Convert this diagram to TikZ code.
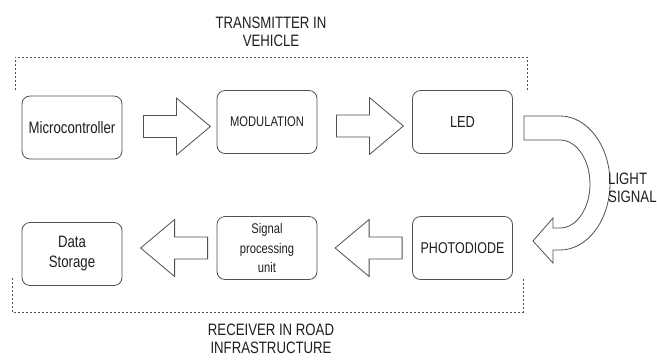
\documentclass[tikz,border=0pt]{standalone}
\usepackage{fontspec}
\setmainfont[FakeStretch=0.8]{Liberation Sans}
\usepackage{tikz}
\usetikzlibrary{calc}
\definecolor{lnGray}{HTML}{505050}
\definecolor{txGray}{HTML}{1E1E1E}

% hollow block arrow, pointing right from its tail
\newcommand{\fatarrow}[2][]{%
  \draw[fat,shift={#2},#1] (0,-11) -- (33,-11) -- (33,-28.5) -- (67,0)
    -- (33,28.5) -- (33,11) -- (0,11) -- cycle;}

\begin{document}
\begin{tikzpicture}[
  x=1pt,y=-1pt,
  every node/.style={font=\fontsize{16.5}{20}\selectfont,text=txGray},
  blk/.style={rounded corners=8pt,draw=lnGray,line width=0.8pt,minimum width=100pt,
    minimum height=63pt,inner sep=2pt,align=center},
  fat/.style={draw=lnGray,line width=0.8pt,fill=white},
  grp/.style={draw=lnGray,line width=0.8pt,dash pattern=on 2pt off 2pt},
  ttl/.style={align=center,inner sep=0pt,font=\fontsize{16.5}{18.5}\selectfont},
]
  \useasboundingbox (0,0) rectangle (657,360);

  \node[blk] (mcu) at (72,127.5) {Microcontroller};
  \node[blk,font=\fontsize{14}{16}\selectfont] (mod) at (267,122) {MODULATION};
  \node[blk,font=\fontsize{16}{18}\selectfont] (led) at (462.5,122) {LED};
  \node[blk,font=\fontsize{15.6}{18}\selectfont] (pd) at (462.5,248) {PHOTODIODE};
  \node[blk,font=\fontsize{14}{19.5}\selectfont] (spu) at (267,248) {Signal\\processing\\unit};
  \node[blk] (store) at (72,254) {Data\\Storage};

  \fatarrow{($(mcu.east)+(21,-1)$)}
  \fatarrow{($(mod.east)+(19,4)$)}
  \fatarrow[xscale=-1]{($(pd.west)+(-10,0)$)}
  \fatarrow[xscale=-1]{($(spu.west)+(-9,0)$)}

  % light path from LED down to the photodiode
  \draw[fat] (524,116) -- (560,116) arc[start angle=-90,end angle=90,x radius=50,y radius=67]
    -- (553,250) -- (553,263) -- (533,241) -- (553,218) -- (553,228) -- (560,228)
    arc[start angle=90,end angle=-90,x radius=30,y radius=44] -- (524,140) -- cycle;

  \draw[grp] (15,90) -- (15,57) -- (527,57) -- (527,92);
  \draw[grp] (12,278) -- (12,312) -- (523,312) -- (523,278);

  \node[ttl] (tx) at (271,32) {TRANSMITTER IN\\VEHICLE};
  \node[ttl] (rx) at (271,339) {RECEIVER IN ROAD\\INFRASTRUCTURE};
  \node[ttl,align=left,anchor=west] (light) at (608,188) {LIGHT\\SIGNAL};
\end{tikzpicture}
\end{document}
